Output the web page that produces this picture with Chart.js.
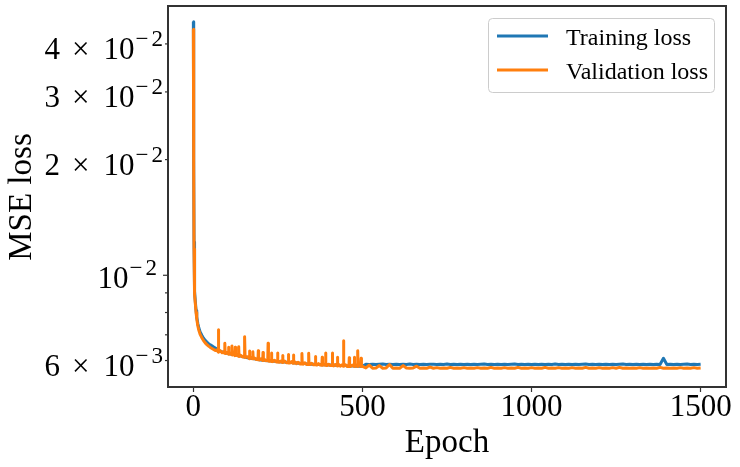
<!DOCTYPE html>
<html>
<head>
<meta charset="utf-8">
<script src="https://cdn.jsdelivr.net/npm/chart.js@4.4.0/dist/chart.umd.min.js"></script>
<style>
  html, body { margin: 0; padding: 0; background: #ffffff; }
  #wrap { width: 740px; height: 467px; }
</style>
</head>
<body>
<div id="wrap"><canvas id="lossChart" width="740" height="467"></canvas></div>
<script>
// training loss
var trainEpochs = [
  0, 1, 2, 3, 4, 6, 8, 10, 13, 16, 20, 25, 30, 35, 40, 45, 50, 55, 60, 65, 70,
  75, 80, 85, 90, 95, 100, 105, 110, 115, 120, 125, 130, 135, 140, 145, 150, 155, 160, 165, 170,
  175, 180, 185, 190, 195, 200, 205, 210, 215, 220, 225, 230, 235, 240, 245, 250, 255, 260, 265, 270,
  275, 280, 285, 290, 295, 300, 305, 310, 315, 320, 325, 330, 335, 340, 345, 350, 355, 360, 365, 370,
  375, 380, 385, 390, 395, 400, 405, 410, 415, 420, 425, 430, 435, 440, 445, 450, 455, 460, 465, 470,
  475, 480, 485, 490, 495, 500,
  510, 520, 530, 540, 550, 560, 570, 580, 590, 600,
  610, 620, 630, 640, 650, 660, 670, 680, 690, 700,
  710, 720, 730, 740, 750, 760, 770, 780, 790, 800,
  810, 820, 830, 840, 850, 860, 870, 880, 890, 900,
  910, 920, 930, 940, 950, 960, 970, 980, 990, 1000,
  1010, 1020, 1030, 1040, 1050, 1060, 1070, 1080, 1090, 1100,
  1110, 1120, 1130, 1140, 1150, 1160, 1170, 1180, 1190, 1200,
  1210, 1220, 1230, 1240, 1250, 1260, 1270, 1280, 1290, 1300,
  1310, 1320, 1330, 1340, 1350, 1360, 1370, 1380, 1390, 1400,
  1410, 1420, 1430, 1440, 1450, 1460, 1470, 1480, 1490, 1500
];

var trainLoss = [
  0.0457, 0.0200, 0.0122, 0.0098, 0.0091, 0.0085, 0.0081, 0.0078, 0.0075, 0.0073, 0.00712, 0.00698, 0.00686, 0.00677, 0.00670, 0.00664, 0.00659, 0.00655, 0.00651, 0.00647, 0.00643,
  0.00638, 0.00634, 0.00632, 0.00630, 0.00628, 0.00627, 0.00625, 0.00624, 0.00623, 0.00622, 0.00620, 0.00619, 0.00617, 0.00616, 0.00615, 0.00613, 0.00612, 0.00610, 0.00609, 0.00608,
  0.00607, 0.00606, 0.00605, 0.00604, 0.00603, 0.00602, 0.00601, 0.00601, 0.00600, 0.00599, 0.00599, 0.00598, 0.00598, 0.00597, 0.00597, 0.00596, 0.00596, 0.00595, 0.00595, 0.00595,
  0.00594, 0.00593, 0.00593, 0.00593, 0.00592, 0.00591, 0.00591, 0.00590, 0.00590, 0.00589, 0.00589, 0.00589, 0.00588, 0.00588, 0.00588, 0.00587, 0.00587, 0.00586, 0.00586, 0.00586,
  0.00586, 0.00585, 0.00585, 0.00585, 0.00585, 0.00584, 0.00584, 0.00584, 0.00583, 0.00583, 0.00583, 0.00583, 0.00582, 0.00582, 0.00582, 0.00582, 0.00581, 0.00581, 0.00581, 0.00581,
  0.00581, 0.00580, 0.00580, 0.00580, 0.00580, 0.00580,
  0.00587, 0.00586, 0.00587, 0.00586, 0.00587, 0.00588, 0.00586, 0.00587, 0.00586, 0.00587,
  0.00586, 0.00587, 0.00586, 0.00588, 0.00586, 0.00587, 0.00586, 0.00587, 0.00586, 0.00587,
  0.00587, 0.00586, 0.00587, 0.00586, 0.00588, 0.00586, 0.00587, 0.00586, 0.00587, 0.00586,
  0.00587, 0.00586, 0.00587, 0.00586, 0.00587, 0.00588, 0.00586, 0.00587, 0.00586, 0.00587,
  0.00586, 0.00587, 0.00586, 0.00587, 0.00588, 0.00586, 0.00587, 0.00586, 0.00587, 0.00586,
  0.00587, 0.00586, 0.00587, 0.00586, 0.00587, 0.00586, 0.00588, 0.00586, 0.00587, 0.00586,
  0.00587, 0.00586, 0.00587, 0.00586, 0.00587, 0.00588, 0.00586, 0.00587, 0.00586, 0.00587,
  0.00586, 0.00587, 0.00586, 0.00587, 0.00586, 0.00587, 0.00588, 0.00586, 0.00587, 0.00586,
  0.00587, 0.00586, 0.00587, 0.00586, 0.00587, 0.00586, 0.00587, 0.00586, 0.00608, 0.00586,
  0.00587, 0.00586, 0.00587, 0.00586, 0.00587, 0.00588, 0.00586, 0.00587, 0.00586, 0.00587
];

// validation loss (extra epochs around the spikes)
var valEpochs = [
  0, 1, 2, 3, 4, 6, 8, 10, 13, 16, 20, 25, 30, 35, 40, 45, 50, 55, 60, 65,
  70, 73, 74, 75, 80, 85, 90, 92, 93, 94,
  95, 100, 103, 104, 105, 110, 113, 114, 115, 120,
  123, 124, 125, 130, 133, 134, 135, 140, 145, 150,
  151, 152, 153, 155, 160, 165, 166, 167, 170, 175,
  176, 177, 180, 185, 190, 191, 192, 193, 195, 200,
  205, 206, 207, 210, 215, 220, 221, 222, 225, 230,
  231, 232, 235, 240, 245, 248, 249, 250, 255, 260,
  263, 264, 265, 270, 275, 280, 281, 282, 285, 290,
  295, 296, 297, 300, 305, 310, 315, 320, 321, 322,
  325, 330, 335, 340, 341, 342, 345, 350, 355, 360,
  361, 362, 365, 370, 375, 380, 381, 382, 385, 390,
  391, 392, 395, 400, 405, 410, 411, 412, 415, 420,
  425, 426, 427, 430, 435, 440, 443, 444, 445, 450,
  455, 460, 461, 462, 465, 470, 475, 476, 477, 480,
  485, 486, 487, 490, 495, 496, 497, 500,
  510, 520, 530, 540, 550, 560, 570, 580, 590, 600,
  610, 620, 630, 640, 650, 660, 670, 680, 690, 700,
  710, 720, 730, 740, 750, 760, 770, 780, 790, 800,
  810, 820, 830, 840, 850, 860, 870, 880, 890, 900,
  910, 920, 930, 940, 950, 960, 970, 980, 990, 1000,
  1010, 1020, 1030, 1040, 1050, 1060, 1070, 1080, 1090, 1100,
  1110, 1120, 1130, 1140, 1150, 1160, 1170, 1180, 1190, 1200,
  1210, 1220, 1230, 1240, 1250, 1260, 1270, 1280, 1290, 1300,
  1310, 1320, 1330, 1340, 1350, 1360, 1370, 1380, 1390, 1400,
  1410, 1420, 1430, 1440, 1450, 1460, 1470, 1480, 1490, 1500
];

var valLoss = [
  0.0437, 0.0190, 0.0117, 0.0095, 0.0089, 0.0084, 0.0080, 0.0077, 0.0074, 0.0072, 0.00702, 0.00688, 0.00676, 0.00667, 0.00660, 0.00654, 0.00649, 0.00645, 0.00641, 0.00637,
  0.00639, 0.00632, 0.00722, 0.00631, 0.00636, 0.00629, 0.00633, 0.00627, 0.00665, 0.00627,
  0.00626, 0.00630, 0.00624, 0.00650, 0.00623, 0.00627, 0.00621, 0.00655, 0.00620, 0.00624,
  0.00618, 0.00650, 0.00618, 0.00622, 0.00616, 0.00652, 0.00615, 0.00619, 0.00613, 0.00617,
  0.00612, 0.00692, 0.00611, 0.00611, 0.00614, 0.00608, 0.00635, 0.00607, 0.00612, 0.00606,
  0.00632, 0.00606, 0.00610, 0.00604, 0.00608, 0.00603, 0.00636, 0.00603, 0.00602, 0.00606,
  0.00600, 0.00630, 0.00600, 0.00604, 0.00599, 0.00603, 0.00665, 0.00598, 0.00597, 0.00602,
  0.00628, 0.00597, 0.00596, 0.00601, 0.00595, 0.00595, 0.00628, 0.00595, 0.00594, 0.00599,
  0.00593, 0.00618, 0.00593, 0.00598, 0.00592, 0.00592, 0.00622, 0.00591, 0.00591, 0.00596,
  0.00590, 0.00620, 0.00590, 0.00595, 0.00589, 0.00594, 0.00588, 0.00588, 0.00626, 0.00588,
  0.00587, 0.00592, 0.00586, 0.00586, 0.00627, 0.00586, 0.00586, 0.00590, 0.00585, 0.00585,
  0.00615, 0.00585, 0.00584, 0.00589, 0.00584, 0.00583, 0.00612, 0.00583, 0.00588, 0.00583,
  0.00628, 0.00583, 0.00582, 0.00587, 0.00582, 0.00582, 0.00628, 0.00582, 0.00581, 0.00586,
  0.00581, 0.00612, 0.00581, 0.00586, 0.00580, 0.00585, 0.00580, 0.00675, 0.00580, 0.00585,
  0.00579, 0.00579, 0.00610, 0.00579, 0.00579, 0.00584, 0.00579, 0.00612, 0.00579, 0.00584,
  0.00579, 0.00636, 0.00579, 0.00584, 0.00579, 0.00608, 0.00579, 0.00579,
  0.00574, 0.00584, 0.00573, 0.00574, 0.00582, 0.00573, 0.00574, 0.00586, 0.00573, 0.00574,
  0.00573, 0.00582, 0.00574, 0.00573, 0.00574, 0.00580, 0.00573, 0.00574, 0.00573, 0.00577,
  0.00573, 0.00575, 0.00573, 0.00574, 0.00573, 0.00576, 0.00573, 0.00574, 0.00573, 0.00575,
  0.00573, 0.00574, 0.00573, 0.00575, 0.00573, 0.00574, 0.00573, 0.00576, 0.00573, 0.00574,
  0.00573, 0.00575, 0.00573, 0.00574, 0.00573, 0.00576, 0.00573, 0.00574, 0.00573, 0.00575,
  0.00573, 0.00574, 0.00573, 0.00576, 0.00573, 0.00574, 0.00573, 0.00575, 0.00573, 0.00574,
  0.00573, 0.00575, 0.00573, 0.00574, 0.00573, 0.00576, 0.00573, 0.00574, 0.00573, 0.00575,
  0.00573, 0.00574, 0.00573, 0.00575, 0.00573, 0.00576, 0.00573, 0.00574, 0.00573, 0.00574,
  0.00573, 0.00575, 0.00573, 0.00574, 0.00573, 0.00574, 0.00573, 0.00576, 0.00573, 0.00574,
  0.00573, 0.00574, 0.00573, 0.00575, 0.00573, 0.00574, 0.00573, 0.00575, 0.00573, 0.00574
];

var seriesNames = ['Training loss', 'Validation loss'];
var xTicks = [0, 500, 1000, 1500];
var yTicks = [0.006, 0.007, 0.008, 0.009, 0.01, 0.02, 0.03, 0.04];
var yTickMant = ['6', '', '', '', '', '2', '3', '4'];
var yTickPow = ['10', '', '', '', '10', '10', '10', '10'];
var yTickExp = ['−3', '', '', '', '−2', '−2', '−2', '−2'];
var xTitle = 'Epoch';
var yTitle = 'MSE loss';

var SERIF = '"Liberation Serif", "Times New Roman", serif';
var AXIS = '#333333';

function toPoints(xs, ys) {
  var pts = [];
  for (var i = 0; i < xs.length; i++) pts.push({ x: xs[i], y: ys[i] });
  return pts;
}

// draw text right-aligned at x, return its left edge
function textLeftOf(ctx, txt, x, y) {
  var w = ctx.measureText(txt).width;
  ctx.fillText(txt, x - w, y);
  return x - w;
}

// frame, log-axis ticks with superscripts, legend box and axis titles
var decorPlugin = {
  id: 'decor',
  afterDraw: function (chart) {
    var ctx = chart.ctx;
    var ca = chart.chartArea;
    var yScale = chart.scales.y;

    ctx.save();
    // frame (all four spines)
    ctx.strokeStyle = AXIS;
    ctx.lineWidth = 2;
    ctx.strokeRect(ca.left, ca.top, ca.right - ca.left, ca.bottom - ca.top);

    // y ticks and labels like  4 × 10^-2
    ctx.fillStyle = '#000';
    ctx.textAlign = 'left';
    ctx.textBaseline = 'alphabetic';
    for (var i = 0; i < yTicks.length; i++) {
      var py = yScale.getPixelForValue(yTicks[i]);
      var lg = Math.log10(yTicks[i]);
      var major = Math.abs(lg - Math.round(lg)) < 1e-9;
      var len = major ? 5 : 3;
      ctx.beginPath();
      ctx.strokeStyle = AXIS;
      ctx.lineWidth = 1.2;
      ctx.moveTo(ca.left - len, py);
      ctx.lineTo(ca.left, py);
      ctx.stroke();
      if (!yTickPow[i]) continue;
      var right = ca.left - (major ? 11 : 5);
      var base = py + (major ? 12.5 : 15);
      // exponent: sign and digits set apart like TeX
      ctx.font = '23px ' + SERIF;
      var digits = yTickExp[i].slice(1);
      var x = textLeftOf(ctx, digits, right, base - 13);
      x = textLeftOf(ctx, yTickExp[i].charAt(0), x - 3, base - 13);
      ctx.font = '31px ' + SERIF;
      x = textLeftOf(ctx, yTickPow[i], x - 1, base);
      if (yTickMant[i]) {
        x = textLeftOf(ctx, '×', x - 14, base);
        textLeftOf(ctx, yTickMant[i], x - 12, base);
      }
    }

    // axis titles
    ctx.font = '33px ' + SERIF;
    ctx.textAlign = 'center';
    ctx.fillText(xTitle, (ca.left + ca.right) / 2, 452);
    ctx.save();
    ctx.translate(31, 197);
    ctx.rotate(-Math.PI / 2);
    ctx.fillText(yTitle, 0, 0);
    ctx.restore();

    // legend
    var bx = ca.right - 238, by = ca.top + 12, bwid = 226, bh = 74;
    ctx.beginPath();
    ctx.roundRect(bx + 0.5, by + 0.5, bwid, bh, 4);
    ctx.fillStyle = 'rgba(255,255,255,0.8)';
    ctx.fill();
    ctx.strokeStyle = '#cccccc';
    ctx.lineWidth = 1;
    ctx.stroke();
    ctx.font = '24px ' + SERIF;
    ctx.textAlign = 'left';
    chart.data.datasets.forEach(function (ds, k) {
      var ly = by + 18 + k * 34;
      ctx.beginPath();
      ctx.strokeStyle = ds.borderColor;
      ctx.lineWidth = 3;
      ctx.moveTo(bx + 9, ly);
      ctx.lineTo(bx + 60, ly);
      ctx.stroke();
      ctx.fillStyle = '#000';
      ctx.fillText(ds.label, bx + 78, ly + 8.5);
    });
    ctx.restore();
  }
};

var ctx = document.getElementById('lossChart').getContext('2d');
var lossChart = new Chart(ctx, {
  type: 'line',
  data: {
    datasets: [
      {
        label: seriesNames[0],
        data: toPoints(trainEpochs, trainLoss),
        borderColor: '#1f77b4',
        borderWidth: 3,
        borderJoinStyle: 'round',
        pointRadius: 0,
        tension: 0,
        fill: false,
        order: 2
      },
      {
        label: seriesNames[1],
        data: toPoints(valEpochs, valLoss),
        borderColor: '#ff7f0e',
        borderWidth: 3,
        borderJoinStyle: 'round',
        pointRadius: 0,
        tension: 0,
        fill: false,
        order: 1
      }
    ]
  },
  options: {
    responsive: false,
    animation: false,
    devicePixelRatio: 1,
    layout: { padding: { top: 6, right: 14, left: 0, bottom: 0 } },
    plugins: {
      legend: { display: false },
      tooltip: { enabled: false }
    },
    scales: {
      x: {
        type: 'linear',
        min: -75,
        max: 1575,
        afterBuildTicks: function (scale) {
          scale.ticks = xTicks.map(function (v) { return { value: v }; });
        },
        afterFit: function (scale) { scale.height = 80; },
        grid: { display: true, drawOnChartArea: false, drawTicks: true, tickLength: 5, tickColor: AXIS, tickWidth: 1.2 },
        border: { display: false },
        ticks: {
          color: '#000',
          font: { family: SERIF, size: 31 },
          padding: -3,
          maxRotation: 0,
          callback: function (v) { return String(v); }
        }
      },
      y: {
        type: 'logarithmic',
        min: 0.00512,
        max: 0.0502,
        afterBuildTicks: function (scale) {
          scale.ticks = yTicks.map(function (v) { return { value: v }; });
        },
        afterFit: function (scale) { scale.width = 168; },
        grid: { display: false },
        border: { display: false },
        ticks: { display: false }
      }
    }
  },
  plugins: [decorPlugin]
});
</script>
</body>
</html>
